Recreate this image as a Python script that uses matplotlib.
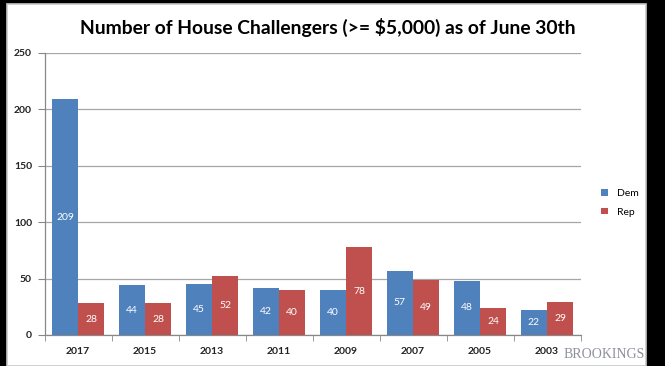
import matplotlib.pyplot as plt
import numpy as np
from matplotlib.patches import Rectangle

years = ['2017', '2015', '2013', '2011', '2009', '2007', '2005', '2003']
dem = [209, 44, 45, 42, 40, 57, 48, 22]
rep = [28, 28, 52, 40, 78, 49, 24, 29]

blue = '#4F81BD'
red = '#C0504D'

fig = plt.figure(figsize=(6.65, 3.66), dpi=100, facecolor='black')
# white chart panel with a thin grey frame
fig.patches.append(Rectangle((7 / 665, 0), 639 / 665, 362 / 366, transform=fig.transFigure,
                             facecolor='white', edgecolor='#c8c8c8', linewidth=1.2, zorder=-5))

ax = fig.add_axes([44.5 / 665, 31 / 366, 536 / 665, 282 / 366])
ax.set_zorder(2)
ax.set_facecolor('white')

x = np.arange(len(years))
w = 0.39
b1 = ax.bar(x - w / 2, dem, w, color=blue, label='Dem', zorder=3)
b2 = ax.bar(x + w / 2, rep, w, color=red, label='Rep', zorder=3)
ax.bar_label(b1, label_type='center', color='white', fontsize=7.5, family='Lato')
ax.bar_label(b2, label_type='center', color='white', fontsize=7.5, family='Lato')

ax.set_xlim(-0.5, len(years) - 0.5)
ax.set_ylim(0, 250)
ax.set_yticks([0, 50, 100, 150, 200, 250])
ax.yaxis.grid(True, color='#a6a6a6', linewidth=0.9, zorder=0)
ax.set_axisbelow(True)
ax.set_xticks(x)
ax.set_xticklabels(years)
ax.set_xticks(np.arange(len(years) + 1) - 0.5, minor=True)
ax.tick_params(axis='x', which='major', length=0, pad=9)
ax.tick_params(axis='x', which='minor', length=4, color='#888888', direction='out')
ax.tick_params(axis='y', length=5, color='#888888', pad=4)
for lab in ax.get_xticklabels() + ax.get_yticklabels():
    lab.set_fontsize(7.5)
    lab.set_fontweight('bold')
    lab.set_family('Lato')
    lab.set_color('#222222')

for s in ['top', 'right']:
    ax.spines[s].set_visible(False)
for s in ['left', 'bottom']:
    ax.spines[s].set_color('#888888')
    ax.spines[s].set_linewidth(0.9)

fig.text(328 / 665, 1 - 27 / 366, 'Number of House Challengers (>= $5,000) as of June 30th',
         ha='center', va='center', fontsize=13.9, fontweight='bold', family='Lato', color='black')

leg = fig.legend(handles=[b1, b2], labels=['Dem', 'Rep'], loc='center left',
                 bbox_to_anchor=(592 / 665, 1 - 203 / 366), frameon=False,
                 handlelength=0.6, handleheight=0.6, handletextpad=0.9,
                 labelspacing=0.9, prop={'family': 'Lato', 'size': 7.5})

fig.text(645 / 665, 1 - 354 / 366, 'BROOKINGS', ha='right', va='center',
         fontsize=10, family='Liberation Serif', color='#8c909a')

fig.savefig('out.png', dpi=100, facecolor=fig.get_facecolor())
